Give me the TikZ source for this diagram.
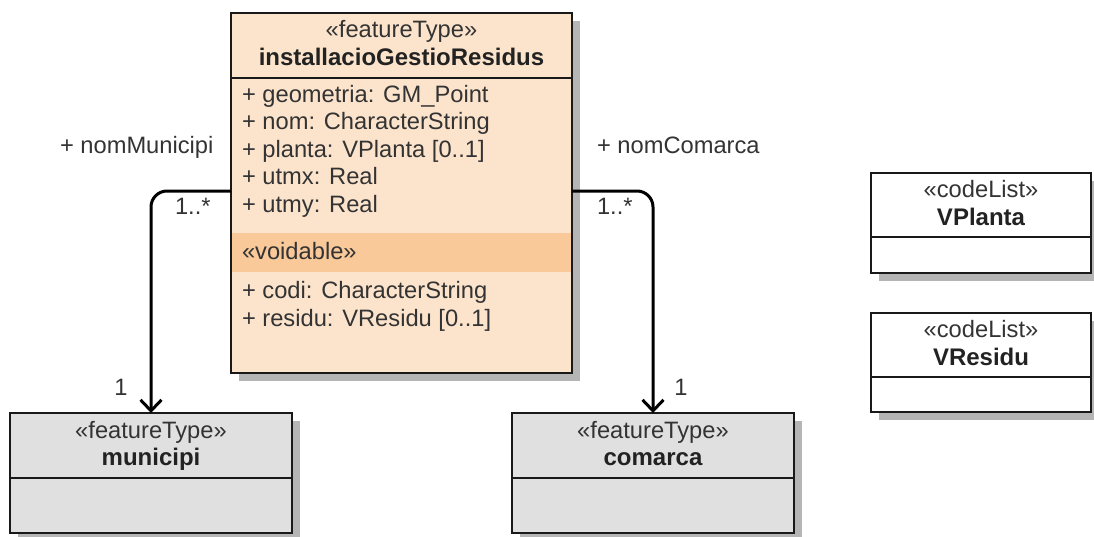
\documentclass[tikz,border=0pt]{standalone}
\usepackage{fontspec}
\setmainfont{Liberation Sans}
\usetikzlibrary{arrows.meta,backgrounds}
\definecolor{txt}{HTML}{333333}
\definecolor{txtb}{HTML}{222222}
\definecolor{orangefill}{HTML}{FCE4CC}
\definecolor{voidfill}{HTML}{F9C99A}
\definecolor{grayfill}{HTML}{E0E0E0}
\definecolor{shadowc}{HTML}{B5B5B5}
\begin{document}
\begin{tikzpicture}[x=1pt,y=-1pt,
  box/.style={draw=black!90, line width=1.6pt, anchor=north west, inner sep=0pt, outer sep=0pt},
  txtn/.style={inner sep=0pt, outer sep=0pt, text=txt, font=\fontsize{23.7}{28}\selectfont},
  attr/.style={txtn, anchor=base west},
  ctr/.style={txtn, anchor=base},
  bname/.style={txtn, anchor=base, text=txtb, font=\fontsize{24}{28}\selectfont\bfseries},
  conn/.style={line width=3pt, rounded corners=16pt, -{Straight Barb[length=11pt,width=21pt,line width=3pt]}},
  divider/.style={line width=1.6pt, draw=black!90},
  shadowfill/.style={fill=shadowc, draw=none},
]
\useasboundingbox (0,0) rectangle (1094,536);

% main class
\node[box, fill=orangefill, minimum width=341pt, minimum height=360pt] (main) at (231,13) {};
\fill[voidfill] (232,233) rectangle (571,272);
\draw[divider] ([yshift=-65pt]main.north west) -- ([yshift=-65pt]main.north east);
\node[ctr] (mst) at (401.5,37) {«featureType»};
\node[bname] (mname) at (401.5,65) {installacioGestioResidus};
\node[attr] (a1) at (242,102) {+ geometria: GM\_Point};
\node[attr] (a2) at (242,129.5) {+ nom: CharacterString};
\node[attr] (a3) at (242,157) {+ planta: VPlanta [0..1]};
\node[attr] (a4) at (242,184.5) {+ utmx: Real};
\node[attr] (a5) at (242,212) {+ utmy: Real};
\node[attr] (vd) at (242,259) {«voidable»};
\node[attr] (a6) at (242,298) {+ codi: CharacterString};
\node[attr] (a7) at (242,326) {+ residu: VResidu [0..1]};

% municipi
\node[box, fill=grayfill, minimum width=282pt, minimum height=120pt] (municipi) at (10,413) {};
\draw[divider] ([yshift=-65pt]municipi.north west) -- ([yshift=-65pt]municipi.north east);
\node[ctr] (must) at (151,438) {«featureType»};
\node[bname] (muname) at (151,465) {municipi};

% comarca
\node[box, fill=grayfill, minimum width=282pt, minimum height=120pt] (comarca) at (512,413) {};
\draw[divider] ([yshift=-65pt]comarca.north west) -- ([yshift=-65pt]comarca.north east);
\node[ctr] (cost) at (653,438) {«featureType»};
\node[bname] (coname) at (653,465) {comarca};

% VPlanta
\node[box, fill=white, minimum width=220pt, minimum height=100pt] (vplanta) at (871,173) {};
\draw[divider] ([yshift=-64pt]vplanta.north west) -- ([yshift=-64pt]vplanta.north east);
\node[ctr] (vpst) at (981,197) {«codeList»};
\node[bname] (vpname) at (981,225) {VPlanta};

% VResidu
\node[box, fill=white, minimum width=220pt, minimum height=99pt] (vresidu) at (871,313) {};
\draw[divider] ([yshift=-64pt]vresidu.north west) -- ([yshift=-64pt]vresidu.north east);
\node[ctr] (vrst) at (981,337) {«codeList»};
\node[bname] (vrname) at (981,365) {VResidu};

% shadows
\begin{scope}[on background layer]
  \foreach \n in {main,municipi,comarca,vplanta,vresidu}{
    \fill[shadowfill] ([shift={(8,8)}]\n.north west) rectangle ([shift={(8,8)}]\n.south east);
  }
\end{scope}

% connectors
\coordinate (ml) at (231,191);
\coordinate (mr) at (572,191);
\draw[conn] (ml) -| (municipi.north);
\draw[conn] (mr) -| (comarca.north);

% labels
\node[attr] (lnm) at (60,153) {+ nomMunicipi};
\node[attr] (lm1) at (175,214) {1..*};
\node[ctr] (lm2) at (121,395) {1};
\node[attr] (lnc) at (597,153) {+ nomComarca};
\node[attr] (lc1) at (597,214) {1..*};
\node[ctr] (lc2) at (681,395) {1};
\end{tikzpicture}
\end{document}
